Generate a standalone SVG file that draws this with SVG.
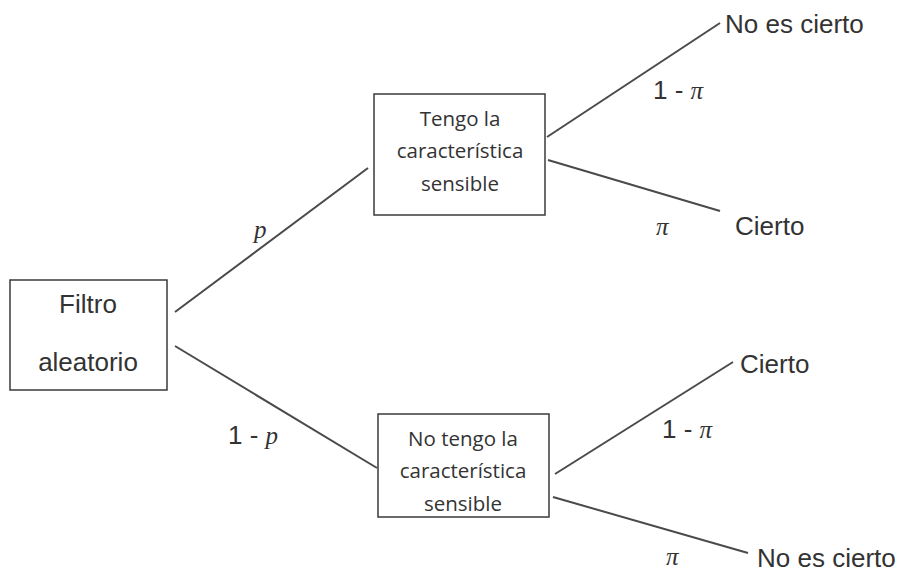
<svg xmlns="http://www.w3.org/2000/svg" width="898" height="572" viewBox="0 0 898 572">
<style>
.box{fill:#fff;stroke:#3a3a3a;stroke-width:1.5}
.ln{stroke:#4a4a4a;stroke-width:2;fill:none}
.t{font-family:"Liberation Sans",Arial,sans-serif;font-size:26px;fill:#333}
.c{font-family:"Open Sans","Noto Sans",sans-serif;font-size:20.5px;fill:#333;text-anchor:middle}
.m{font-family:"Liberation Serif","DejaVu Serif",serif;font-style:italic;font-size:25px;fill:#333}
</style>
<rect width="898" height="572" fill="#fff"/>
<g id="connectors">
<line class="ln" x1="175" y1="312" x2="368" y2="168"/>
<line class="ln" x1="175" y1="346" x2="377" y2="468"/>
<line class="ln" x1="547" y1="137" x2="720" y2="23"/>
<line class="ln" x1="548" y1="160" x2="720" y2="211"/>
<line class="ln" x1="555" y1="474" x2="733" y2="362"/>
<line class="ln" x1="553" y1="497" x2="748" y2="553"/>
<text class="m" x="254" y="238">p</text>
<text class="t" x="228" y="444">1 - <tspan class="m">p</tspan></text>
<text class="t" x="653" y="99">1 - <tspan class="m">π</tspan></text>
<text class="m" x="656" y="235">π</text>
<text class="t" x="662" y="438">1 - <tspan class="m">π</tspan></text>
<text class="m" x="666" y="565">π</text>
</g>
<g id="filtro">
<rect class="box" x="10" y="280" width="157" height="110"/>
<text class="t" x="88" y="313" text-anchor="middle">Filtro</text>
<text class="t" x="88" y="371" text-anchor="middle">aleatorio</text>
</g>
<g id="tengo">
<rect class="box" x="374" y="94" width="171" height="121"/>
<text class="c" x="460" y="126">Tengo la</text>
<text class="c" x="460" y="158">característica</text>
<text class="c" x="460" y="191">sensible</text>
</g>
<g id="notengo">
<rect class="box" x="378" y="414" width="171" height="103"/>
<text class="c" x="463" y="446">No tengo la</text>
<text class="c" x="463" y="478">característica</text>
<text class="c" x="463" y="511">sensible</text>
</g>
<g id="leaf1"><text class="t" x="725" y="33">No es cierto</text></g>
<g id="leaf2"><text class="t" x="735" y="235">Cierto</text></g>
<g id="leaf3"><text class="t" x="740" y="373">Cierto</text></g>
<g id="leaf4"><text class="t" x="757" y="567">No es cierto</text></g>
</svg>
